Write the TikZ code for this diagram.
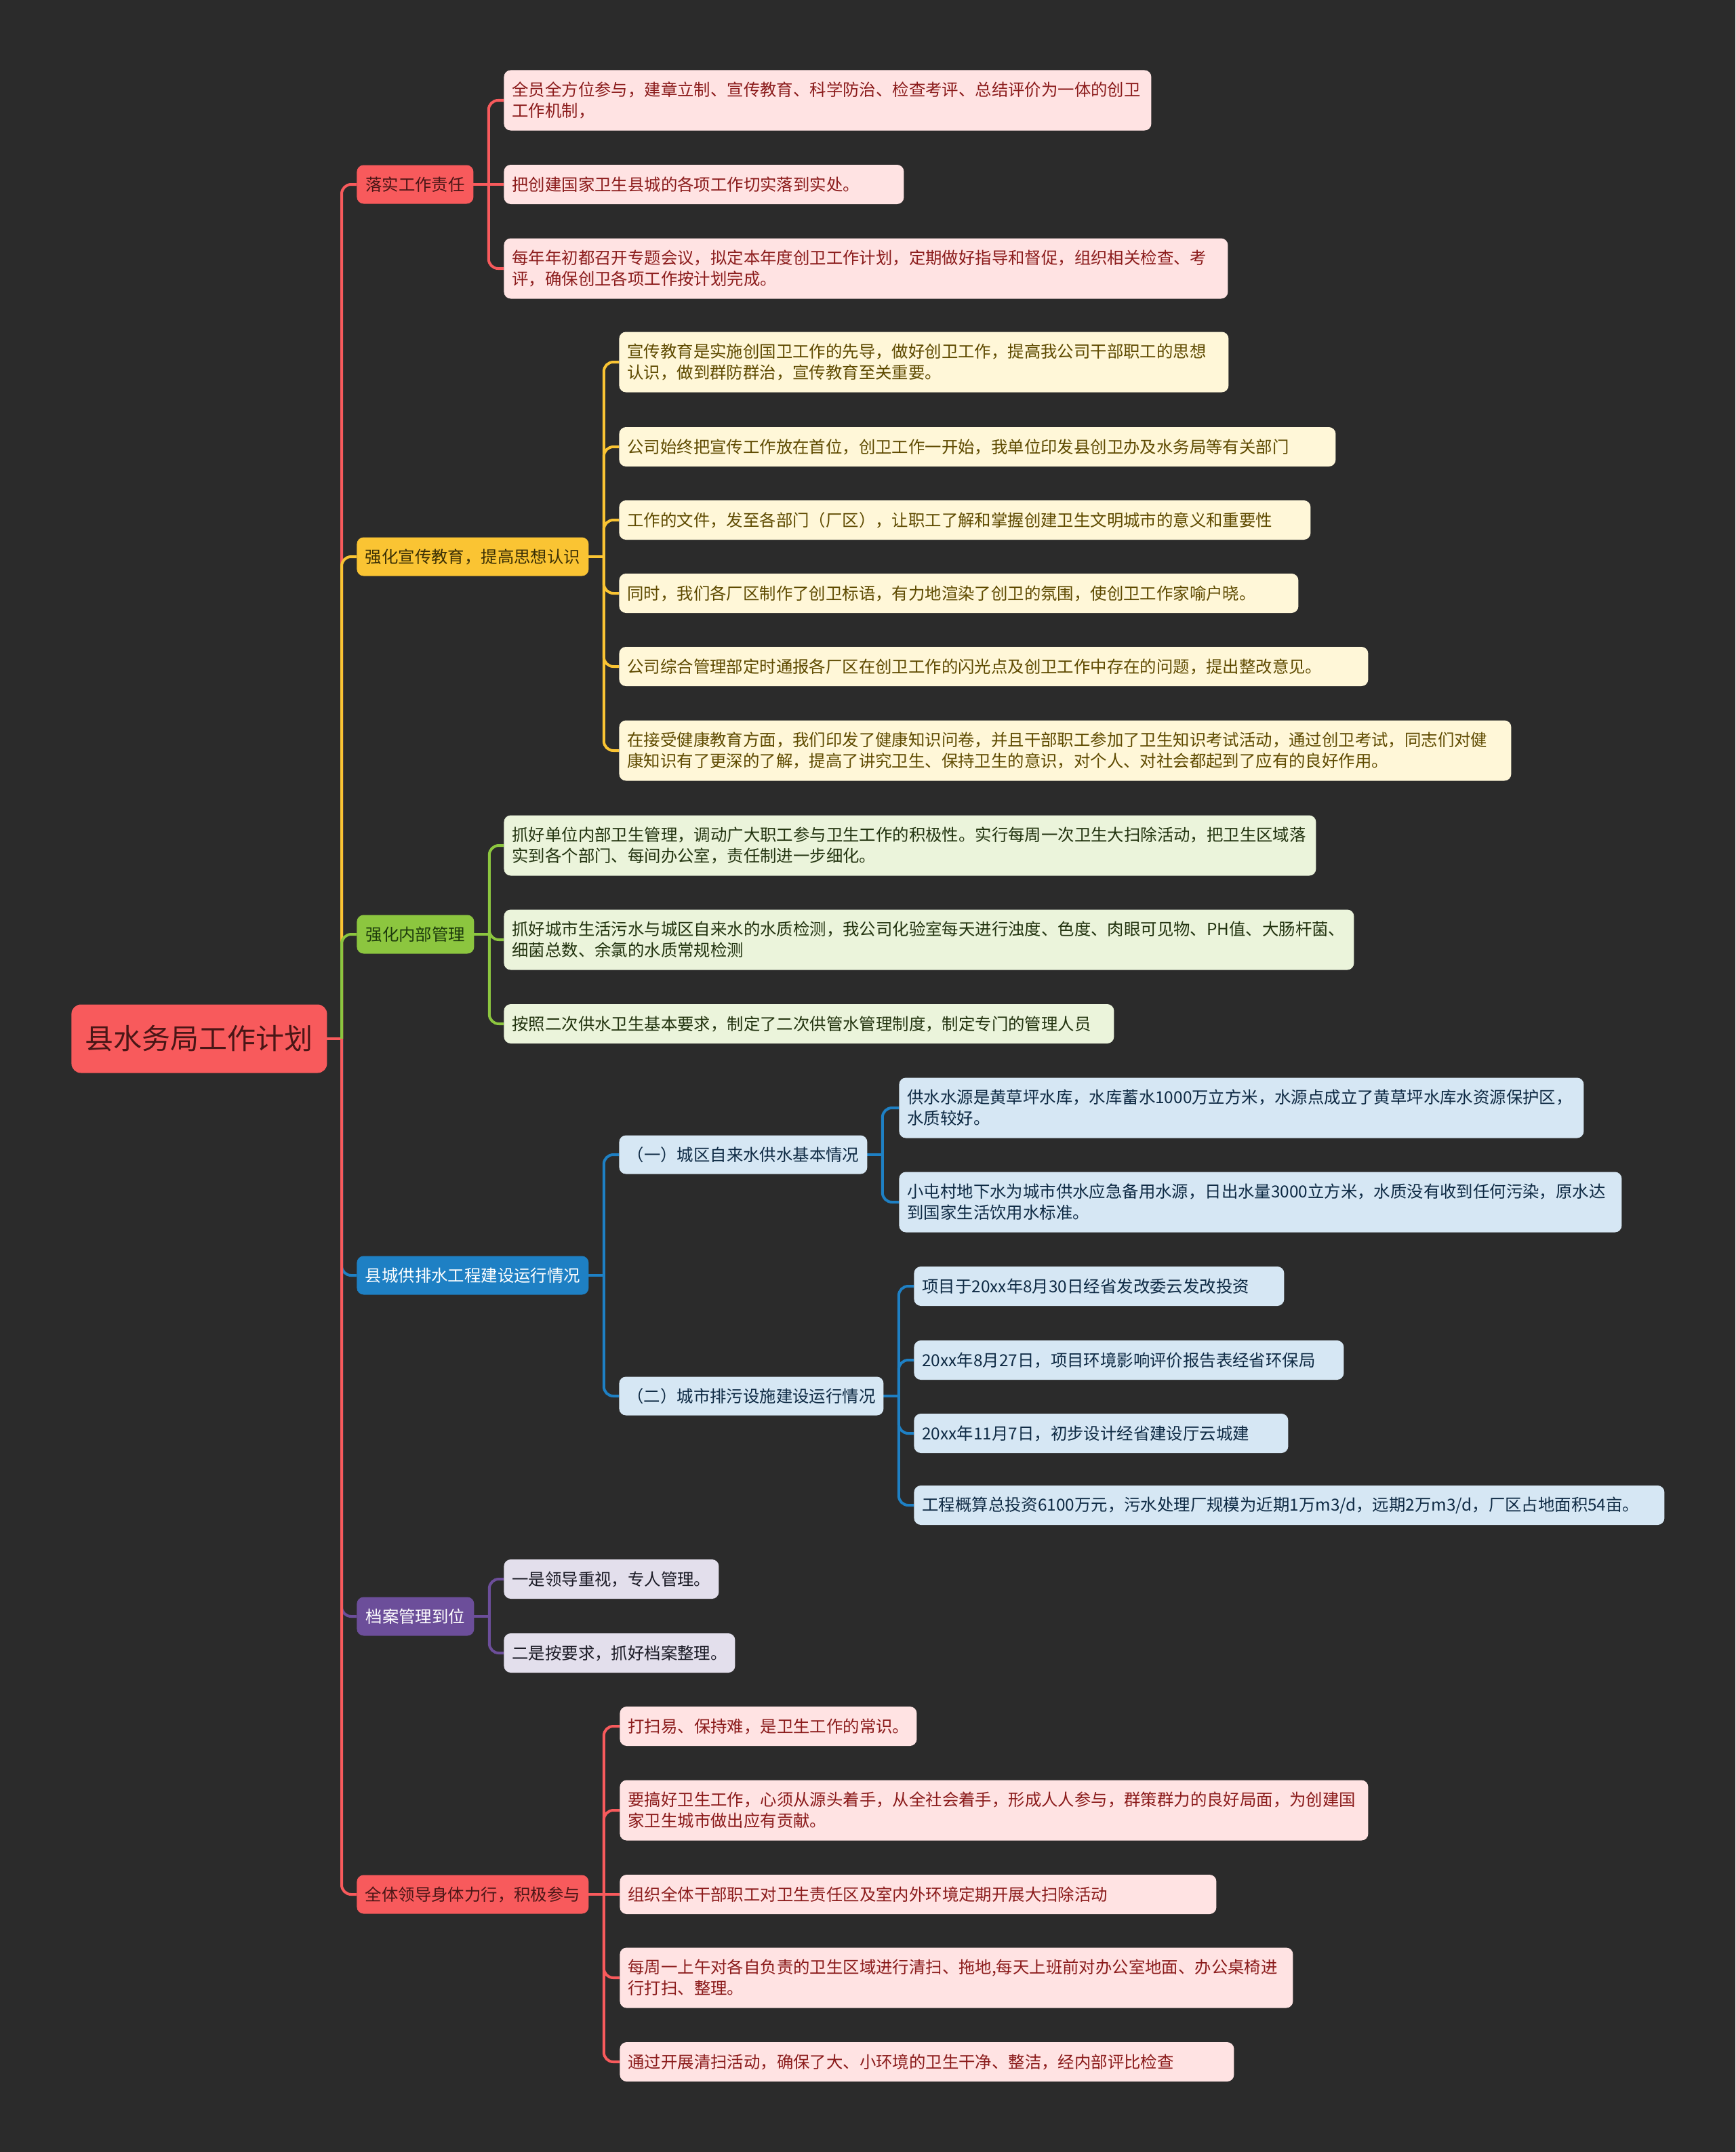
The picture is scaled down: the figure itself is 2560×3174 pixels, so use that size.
\documentclass[tikz,border=0pt]{standalone}
\usepackage{fontspec}
\newfontfamily\cjk{Noto Sans CJK SC}
\definecolor{bgc}{HTML}{2B2B2B}
\definecolor{nR}{HTML}{F85A5C}
\definecolor{nY}{HTML}{FAC433}
\definecolor{nG}{HTML}{8CC63F}
\definecolor{nB}{HTML}{1E80C4}
\definecolor{nP}{HTML}{6C4E9A}
\definecolor{lR}{HTML}{FFE3E3}
\definecolor{lY}{HTML}{FFF7D8}
\definecolor{lG}{HTML}{EBF4DB}
\definecolor{lB}{HTML}{D6E7F4}
\definecolor{lP}{HTML}{E3DFEC}
\definecolor{tR}{HTML}{8B1B1B}
\definecolor{tRd}{HTML}{4A1616}
\definecolor{tY}{HTML}{5E4A00}
\definecolor{tYd}{HTML}{3A2F05}
\definecolor{tG}{HTML}{22330F}
\definecolor{tGd}{HTML}{1D3A0C}
\definecolor{tB}{HTML}{0E2A44}
\definecolor{tP}{HTML}{1B1B26}
\pgfdeclarelayer{canvas}
\pgfdeclarelayer{links}
\pgfsetlayers{canvas,links,main}
\tikzset{
  box/.style={rectangle, rounded corners=5pt, anchor=west, inner xsep=6pt, inner ysep=0pt,
    font=\cjk\fontsize{12.2pt}{15.5pt}\selectfont},
  one/.style={minimum height=29pt},
  two/.style={minimum height=44.5pt},
  leafR/.style={box, fill=lR, text=tR, align=left},
  leafY/.style={box, fill=lY, text=tY, align=left},
  leafG/.style={box, fill=lG, text=tG, align=left},
  leafB/.style={box, fill=lB, text=tB, align=left},
  leafP/.style={box, fill=lP, text=tP, align=left},
  brbox/.style={box, inner xsep=0pt, minimum height=28.5pt, align=center},
  rootbox/.style={rectangle, rounded corners=7pt, anchor=west, inner sep=0pt, fill=nR, text=tRd,
    minimum width=188.5pt, minimum height=50.5pt, font=\cjk\fontsize{21pt}{25pt}\selectfont},
  link/.style={line width=2pt, rounded corners=7pt},
  stub/.style={line width=2pt, line cap=rect},
}
\begin{document}
\begin{tikzpicture}[x={(0.5pt,0)}, y={(0,-0.5pt)}]
\begin{pgfonlayer}{canvas}
\fill[bgc] (0,0) rectangle (2560,3174);
\end{pgfonlayer}
\useasboundingbox (0,0) rectangle (2560,3174);

% root
\node[rootbox] (root) at (105,1532) {县水务局工作计划};

% level 1
\node[brbox, fill=nR, text=tRd, minimum width=86pt] (b1) at (526,272) {落实工作责任};
\node[brbox, fill=nY, text=tYd, minimum width=171pt] (b2) at (526,821) {强化宣传教育，提高思想认识};
\node[brbox, fill=nG, text=tGd, minimum width=86.5pt] (b3) at (526,1378) {强化内部管理};
\node[brbox, fill=nB, text=white, minimum width=171pt] (b4) at (526,1881) {县城供排水工程建设运行情况};
\node[brbox, fill=nP, text=white, minimum width=86.5pt] (b5) at (526,2384) {档案管理到位};
\node[brbox, fill=nR, text=tRd, minimum width=171pt] (b6) at (526,2794) {全体领导身体力行，积极参与};

% branch 1
\node[leafR, two, text width=465.5pt] (l1a) at (743,148) {全员全方位参与，建章立制、宣传教育、科学防治、检查考评、总结评价为一体的创卫\\工作机制，};
\node[leafR, one, text width=283pt] (l1b) at (743,272) {把创建国家卫生县城的各项工作切实落到实处。};
\node[leafR, two, text width=522pt] (l1c) at (743,396) {每年年初都召开专题会议，拟定本年度创卫工作计划，定期做好指导和督促，组织相关检查、考\\评，确保创卫各项工作按计划完成。};

% branch 2
\node[leafY, two, text width=437.5pt] (l2a) at (913,534) {宣传教育是实施创国卫工作的先导，做好创卫工作，提高我公司干部职工的思想\\认识，做到群防群治，宣传教育至关重要。};
\node[leafY, one, text width=516.5pt] (l2b) at (913,659) {公司始终把宣传工作放在首位，创卫工作一开始，我单位印发县创卫办及水务局等有关部门};
\node[leafY, one, text width=498pt] (l2c) at (913,767) {工作的文件，发至各部门（厂区），让职工了解和掌握创建卫生文明城市的意义和重要性};
\node[leafY, one, text width=489pt] (l2d) at (913,875) {同时，我们各厂区制作了创卫标语，有力地渲染了创卫的氛围，使创卫工作家喻户晓。};
\node[leafY, one, text width=540.5pt] (l2e) at (913,983) {公司综合管理部定时通报各厂区在创卫工作的闪光点及创卫工作中存在的问题，提出整改意见。};
\node[leafY, two, text width=646pt] (l2f) at (913,1107) {在接受健康教育方面，我们印发了健康知识问卷，并且干部职工参加了卫生知识考试活动，通过创卫考试，同志们对健\\康知识有了更深的了解，提高了讲究卫生、保持卫生的意识，对个人、对社会都起到了应有的良好作用。};

% branch 3
\node[leafG, two, text width=587pt] (l3a) at (743,1247) {抓好单位内部卫生管理，调动广大职工参与卫生工作的积极性。实行每周一次卫生大扫除活动，把卫生区域落\\实到各个部门、每间办公室，责任制进一步细化。};
\node[leafG, two, text width=615pt] (l3b) at (743,1386) {抓好城市生活污水与城区自来水的水质检测，我公司化验室每天进行浊度、色度、肉眼可见物、PH值、大肠杆菌、\\细菌总数、余氯的水质常规检测};
\node[leafG, one, text width=438pt] (l3c) at (743,1510) {按照二次供水卫生基本要求，制定了二次供管水管理制度，制定专门的管理人员};

% branch 4
\node[brbox, fill=lB, text=tB, minimum width=183pt] (s1) at (913,1703) {（一）城区自来水供水基本情况};
\node[brbox, fill=lB, text=tB, minimum width=195pt] (s2) at (913,2059) {（二）城市排污设施建设运行情况};
\node[leafB, two, text width=493pt] (l4a) at (1326,1634) {供水水源是黄草坪水库，水库蓄水1000万立方米，水源点成立了黄草坪水库水资源保护区，\\水质较好。};
\node[leafB, two, text width=521pt] (l4b) at (1326,1773) {小屯村地下水为城市供水应急备用水源，日出水量3000立方米，水质没有收到任何污染，原水达\\到国家生活饮用水标准。};
\node[leafB, one, text width=261pt] (l4c) at (1348,1897) {项目于20xx年8月30日经省发改委云发改投资};
\node[leafB, one, text width=305pt] (l4d) at (1348,2006) {20xx年8月27日，项目环境影响评价报告表经省环保局};
\node[leafB, one, text width=264pt] (l4e) at (1348,2114) {20xx年11月7日，初步设计经省建设厅云城建};
\node[leafB, one, text width=541.5pt] (l4f) at (1348,2220) {工程概算总投资6100万元，污水处理厂规模为近期1万m3/d，远期2万m3/d，厂区占地面积54亩。};

% branch 5
\node[leafP, one, text width=146.5pt] (l5a) at (743,2329) {一是领导重视，专人管理。};
\node[leafP, one, text width=158.5pt] (l5b) at (743,2438) {二是按要求，抓好档案整理。};

% branch 6
\node[leafR, one, text width=207pt] (l6a) at (914,2546) {打扫易、保持难，是卫生工作的常识。};
\node[leafR, two, text width=540pt] (l6b) at (914,2670) {要搞好卫生工作，心须从源头着手，从全社会着手，形成人人参与，群策群力的良好局面，为创建国\\家卫生城市做出应有贡献。};
\node[leafR, one, text width=428pt] (l6c) at (914,2794) {组织全体干部职工对卫生责任区及室内外环境定期开展大扫除活动};
\node[leafR, two, text width=484.5pt] (l6d) at (914,2917) {每周一上午对各自负责的卫生区域进行清扫、拖地,每天上班前对办公室地面、办公桌椅进\\行打扫、整理。};
\node[leafR, one, text width=441pt] (l6e) at (914,3041) {通过开展清扫活动，确保了大、小环境的卫生干净、整洁，经内部评比检查};

% junctions
\coordinate (rj) at (504,1532);
\coordinate (j1) at ([xshift=11pt]b1.east);
\coordinate (j2) at ([xshift=11pt]b2.east);
\coordinate (j3) at ([xshift=11pt]b3.east);
\coordinate (j4) at ([xshift=11pt]b4.east);
\coordinate (j5) at ([xshift=11pt]b5.east);
\coordinate (j6) at ([xshift=11pt]b6.east);
\coordinate (k1) at ([xshift=11pt]s1.east);
\coordinate (k2) at ([xshift=11pt]s2.east);

\begin{pgfonlayer}{links}
% root to branches
\draw[stub, nR] (root.east) -- (rj);
\draw[link, nR] (rj) |- (b1.west);
\draw[link, nY] (rj) |- (b2.west);
\draw[link, nG] (rj) |- (b3.west);
\draw[link, nB] (rj) |- (b4.west);
\draw[link, nP] (rj) |- (b5.west);
\draw[link, nR] (rj) |- (b6.west);
% branch 1
\draw[stub, nR] (b1.east) -- (j1);
\draw[link, nR] (j1) |- (l1a.west);
\draw[link, nR] (j1) -- (l1b.west);
\draw[link, nR] (j1) |- (l1c.west);
% branch 2
\draw[stub, nY] (b2.east) -- (j2);
\foreach \c in {l2a,l2b,l2c,l2d,l2e,l2f} {\draw[link, nY] (j2) |- (\c.west);}
% branch 3
\draw[stub, nG] (b3.east) -- (j3);
\foreach \c in {l3a,l3b,l3c} {\draw[link, nG] (j3) |- (\c.west);}
% branch 4
\draw[stub, nB] (b4.east) -- (j4);
\draw[link, nB] (j4) |- (s1.west);
\draw[link, nB] (j4) |- (s2.west);
\draw[stub, nB] (s1.east) -- (k1);
\draw[link, nB] (k1) |- (l4a.west);
\draw[link, nB] (k1) |- (l4b.west);
\draw[stub, nB] (s2.east) -- (k2);
\foreach \c in {l4c,l4d,l4e,l4f} {\draw[link, nB] (k2) |- (\c.west);}
% branch 5
\draw[stub, nP] (b5.east) -- (j5);
\draw[link, nP] (j5) |- (l5a.west);
\draw[link, nP] (j5) |- (l5b.west);
% branch 6
\draw[stub, nR] (b6.east) -- (j6);
\draw[link, nR] (j6) |- (l6a.west);
\draw[link, nR] (j6) |- (l6b.west);
\draw[link, nR] (j6) -- (l6c.west);
\draw[link, nR] (j6) |- (l6d.west);
\draw[link, nR] (j6) |- (l6e.west);
\end{pgfonlayer}
\end{tikzpicture}
\end{document}
